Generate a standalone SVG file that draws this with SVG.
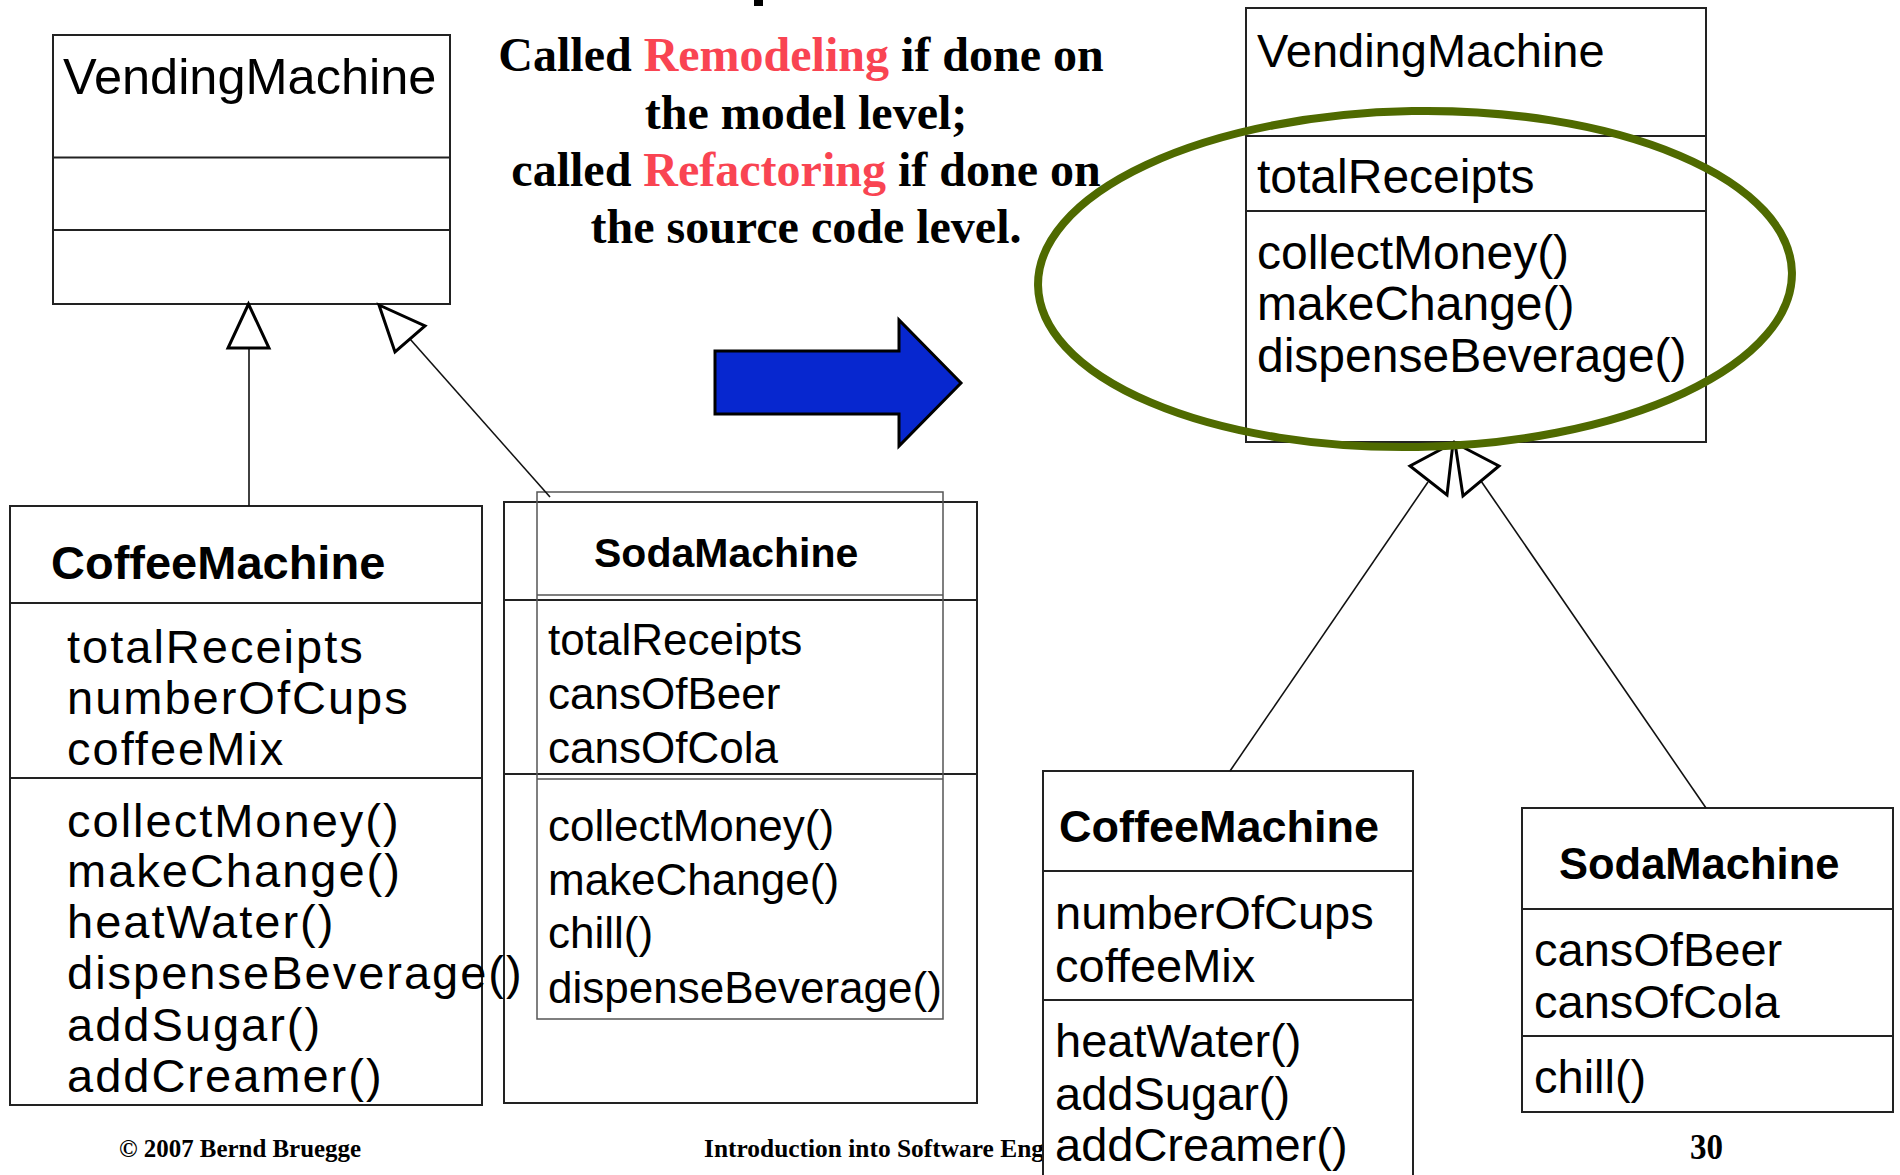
<svg xmlns="http://www.w3.org/2000/svg" width="1900" height="1175" viewBox="0 0 1900 1175">
<style>
.box{fill:none;stroke:#222;stroke-width:2}
.wbox{fill:#fff;stroke:#222;stroke-width:2}
.div{stroke:#222;stroke-width:2}
.inner{fill:none;stroke:#555;stroke-width:1.5}
.t{font-family:"Liberation Sans",Arial,sans-serif;fill:#000}
.b{font-weight:bold}
.w{font-size:47px;letter-spacing:2px}
.s{font-family:"Liberation Serif","Times New Roman",serif;font-weight:bold;fill:#000}
.red{fill:#F94452}
.con{stroke:#111;stroke-width:1.6;fill:none}
.tri{fill:#fff;stroke:#000;stroke-width:3;stroke-linejoin:miter}
</style>
<rect x="0" y="0" width="1900" height="1175" fill="#fff"/>
<rect x="754" y="0" width="9" height="6" fill="#000"/>
<g id="caption">
<text class="s" font-size="48" x="801" y="71" text-anchor="middle">Called <tspan class="red">Remodeling</tspan> if done on</text>
<text class="s" font-size="48" x="806" y="129" text-anchor="middle">the model level;</text>
<text class="s" font-size="48" x="806" y="186" text-anchor="middle">called <tspan class="red">Refactoring</tspan> if done on</text>
<text class="s" font-size="48" x="806" y="243" text-anchor="middle">the source code level.</text>
</g>
<g id="footer">
<text class="s" font-size="26" x="119" y="1157" textLength="242" lengthAdjust="spacingAndGlyphs">© 2007 Bernd Bruegge</text>
<text class="s" font-size="26" x="704" y="1157" textLength="340" lengthAdjust="spacingAndGlyphs">Introduction into Software Eng</text>
<text class="s" font-size="36" x="1690" y="1159" textLength="33" lengthAdjust="spacingAndGlyphs">30</text>
</g>
<g id="vm-left">
<rect class="box" x="53" y="35" width="397" height="269"/>
<line class="div" x1="53" y1="157.5" x2="450" y2="157.5"/>
<line class="div" x1="53" y1="230" x2="450" y2="230"/>
<text class="t" font-size="50.5" x="63" y="94">VendingMachine</text>
</g>
<g id="soda-left">
<rect class="box" x="504" y="502" width="473" height="601"/>
<line class="div" x1="504" y1="600" x2="977" y2="600"/>
<line class="div" x1="504" y1="774" x2="977" y2="774"/>
<rect class="inner" x="537" y="492" width="406" height="527"/>
<line class="inner" x1="537" y1="595" x2="943" y2="595"/>
<line class="inner" x1="537" y1="779" x2="943" y2="779"/>
<text class="t b" font-size="41" x="594" y="567">SodaMachine</text>
<text class="t" font-size="44" x="548" y="655">totalReceipts</text>
<text class="t" font-size="44" x="548" y="709">cansOfBeer</text>
<text class="t" font-size="44" x="548" y="763">cansOfCola</text>
<text class="t" font-size="44" x="548" y="841">collectMoney()</text>
<text class="t" font-size="44" x="548" y="895">makeChange()</text>
<text class="t" font-size="44" x="548" y="948">chill()</text>
<text class="t" font-size="44" x="548" y="1003">dispenseBeverage()</text>
</g>
<g id="coffee-left">
<rect class="box" x="10" y="506" width="472" height="599"/>
<line class="div" x1="10" y1="603" x2="482" y2="603"/>
<line class="div" x1="10" y1="778" x2="482" y2="778"/>
<text class="t b" font-size="47" x="51" y="579">CoffeeMachine</text>
<text class="t w" x="67" y="663">totalReceipts</text>
<text class="t w" x="67" y="714">numberOfCups</text>
<text class="t w" x="67" y="765">coffeeMix</text>
<text class="t w" x="67" y="837">collectMoney()</text>
<text class="t w" x="67" y="887">makeChange()</text>
<text class="t w" x="67" y="938">heatWater()</text>
<text class="t w" x="67" y="989">dispenseBeverage()</text>
<text class="t w" x="67" y="1041">addSugar()</text>
<text class="t w" x="67" y="1092">addCreamer()</text>
</g>
<g id="vm-right">
<rect class="box" x="1246" y="8" width="460" height="434"/>
<line class="div" x1="1246" y1="136" x2="1706" y2="136"/>
<line class="div" x1="1246" y1="211" x2="1706" y2="211"/>
<text class="t" font-size="47" x="1257" y="67">VendingMachine</text>
<text class="t" font-size="48" x="1257" y="193">totalReceipts</text>
<text class="t" font-size="48" x="1257" y="269">collectMoney()</text>
<text class="t" font-size="48" x="1257" y="320">makeChange()</text>
<text class="t" font-size="48" x="1257" y="372">dispenseBeverage()</text>
</g>
<g id="coffee-right">
<rect class="wbox" x="1043" y="771" width="370" height="420"/>
<line class="div" x1="1043" y1="871" x2="1413" y2="871"/>
<line class="div" x1="1043" y1="1000" x2="1413" y2="1000"/>
<text class="t b" font-size="45" x="1059" y="842">CoffeeMachine</text>
<text class="t" font-size="47" x="1055" y="929">numberOfCups</text>
<text class="t" font-size="47" x="1055" y="982">coffeeMix</text>
<text class="t" font-size="47" x="1055" y="1057">heatWater()</text>
<text class="t" font-size="47" x="1055" y="1110">addSugar()</text>
<text class="t" font-size="47" x="1055" y="1161">addCreamer()</text>
</g>
<g id="soda-right">
<rect class="box" x="1522" y="808" width="371" height="304"/>
<line class="div" x1="1522" y1="909" x2="1893" y2="909"/>
<line class="div" x1="1522" y1="1036" x2="1893" y2="1036"/>
<text class="t b" font-size="43.5" x="1559" y="879">SodaMachine</text>
<text class="t" font-size="47" x="1534" y="966">cansOfBeer</text>
<text class="t" font-size="47" x="1534" y="1018">cansOfCola</text>
<text class="t" font-size="47" x="1534" y="1093">chill()</text>
</g>
<g id="connectors">
<line class="con" x1="249" y1="348" x2="249" y2="506"/>
<polygon class="tri" points="248.5,304 228,348 269,348"/>
<line class="con" x1="410" y1="339" x2="550" y2="497"/>
<polygon class="tri" points="379,305 425,326 395,352"/>
<line class="con" x1="1428" y1="482" x2="1230" y2="771"/>
<polygon class="tri" points="1453,443 1410,466 1447,495"/>
<line class="con" x1="1481" y1="481" x2="1706" y2="808"/>
<polygon class="tri" points="1455,443 1499,466 1463,496"/>
</g>
<g id="refactor-arrow">
<polygon points="715,351 899,351 899,320 961,383 899,446 899,414 715,414" fill="#0727CF" stroke="#000" stroke-width="3" stroke-linejoin="miter"/>
</g>
<g id="highlight">
<ellipse cx="1415" cy="279" rx="377" ry="168" fill="none" stroke="#4F6A00" stroke-width="8" transform="rotate(-1 1415 279)"/>
</g>
</svg>
